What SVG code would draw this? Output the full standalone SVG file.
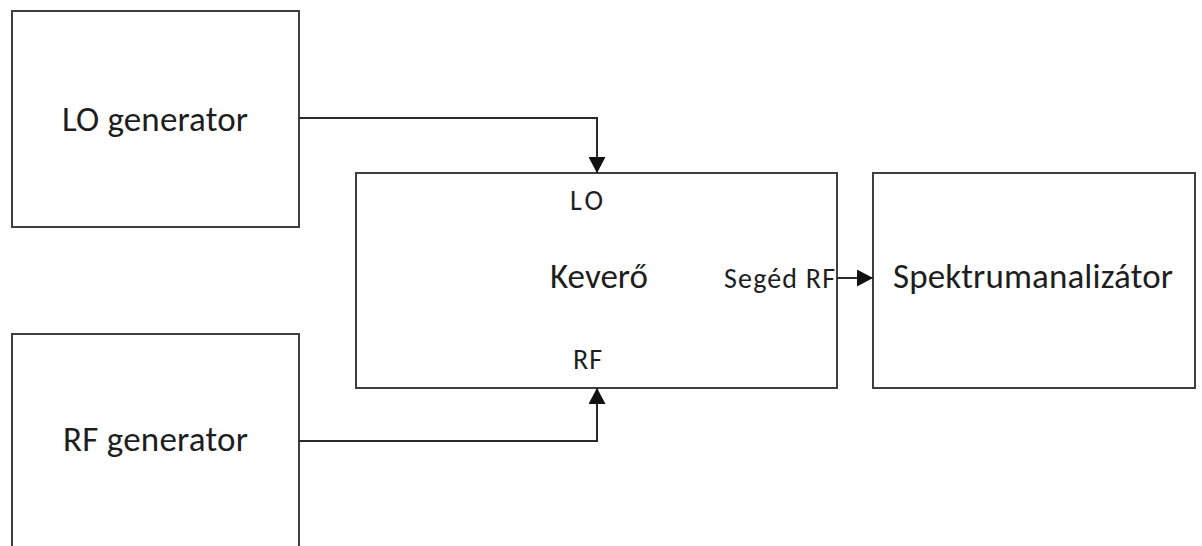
<svg xmlns="http://www.w3.org/2000/svg" width="1202" height="546" viewBox="0 0 1202 546">
  <style>
    .box { fill: #ffffff; stroke: #3f3f3f; stroke-width: 2; }
    .lbl { font-family: Carlito, Lato, "Liberation Sans", sans-serif; fill: #1e1e1e; }
    .big { font-size: 35px; }
    .small { font-size: 28px; }
    .wire { fill: none; stroke: #2a2a2a; stroke-width: 2; }
  </style>
  <defs>
    <marker id="arrowBig" viewBox="0 0 10 10" refX="10" refY="5" markerWidth="16" markerHeight="17" markerUnits="userSpaceOnUse" orient="auto" preserveAspectRatio="none">
      <path d="M0,0 L10,5 L0,10 Z" fill="#111"/>
    </marker>
  </defs>
  <rect width="1202" height="546" fill="#ffffff"/>

  <g id="lo-generator">
    <rect class="box" x="12" y="11" width="287" height="216"/>
    <text class="lbl big" x="62" y="131" textLength="186" lengthAdjust="spacing">LO generator</text>
  </g>

  <g id="rf-generator">
    <rect class="box" x="12" y="334" width="287" height="220"/>
    <text class="lbl big" x="63" y="451" textLength="185" lengthAdjust="spacing">RF generator</text>
  </g>

  <g id="kevero">
    <rect class="box" x="356" y="173" width="481" height="215"/>
    <text class="lbl small" x="570" y="210" textLength="33" lengthAdjust="spacing">LO</text>
    <text class="lbl big" x="550" y="288" textLength="98" lengthAdjust="spacing">Keverő</text>
    <text class="lbl small" x="573" y="369" textLength="29" lengthAdjust="spacing">RF</text>
    <text class="lbl small" x="724" y="288" textLength="111" lengthAdjust="spacing">Segéd RF</text>
  </g>

  <g id="spektrumanalizator">
    <rect class="box" x="873" y="173" width="322" height="215"/>
    <text class="lbl big" x="893" y="288" textLength="280" lengthAdjust="spacing">Spektrumanalizátor</text>
  </g>

  <g id="connectors">
    <path class="wire" d="M299,118 H597 V173" marker-end="url(#arrowBig)"/>
    <path class="wire" d="M299,441 H597 V388" marker-end="url(#arrowBig)"/>
    <path class="wire" d="M837,278 H873" marker-end="url(#arrowBig)"/>
  </g>
</svg>
